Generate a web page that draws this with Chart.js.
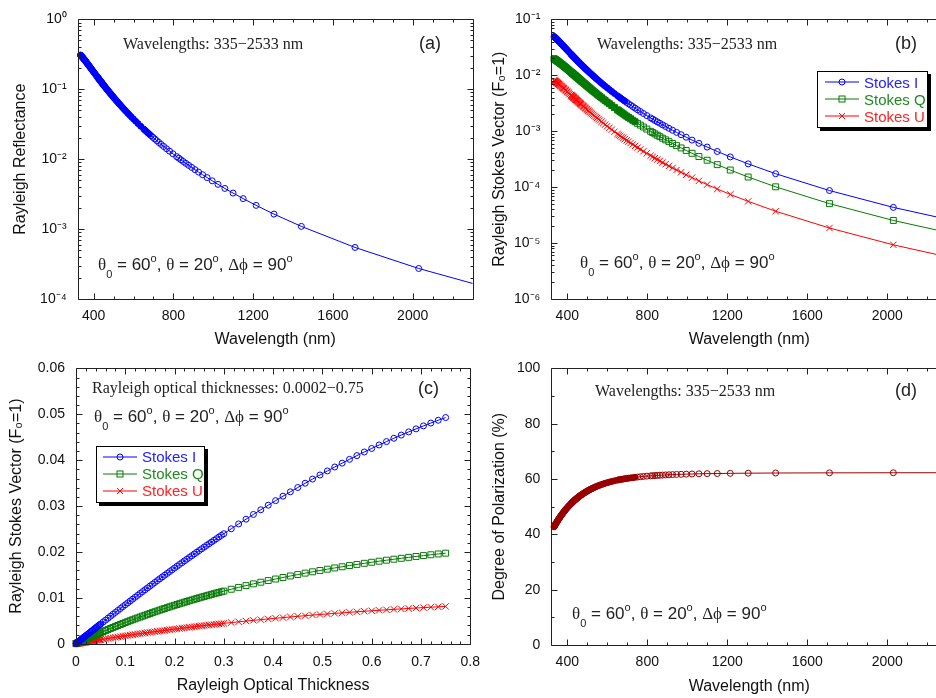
<!DOCTYPE html>
<html><head><meta charset="utf-8">
<script src="https://cdn.jsdelivr.net/npm/chart.js@4.4.1/dist/chart.umd.min.js"></script>
<style>
html,body{margin:0;padding:0;background:#fff;overflow:hidden;}
#wrap{position:relative;width:936px;height:698px;overflow:hidden;background:#fff;}
canvas{position:absolute;}
.note{position:absolute;white-space:nowrap;color:#222;}
.serif{font-family:'Liberation Serif','Times New Roman',serif;font-size:16px;line-height:20px;}
.tag{font-family:'Liberation Sans',Arial,sans-serif;font-size:18px;line-height:20px;}
.ang{font-family:'Liberation Sans',Arial,sans-serif;font-size:17px;line-height:20px;}
.ang .g{font-family:'Liberation Serif','Times New Roman',serif;}
.ang sub{font-size:11px;vertical-align:-8px;line-height:0;}
.ang sup{font-size:11px;vertical-align:8px;line-height:0;}
.legend{position:absolute;background:#fff;border:1px solid #000;box-shadow:3px 3px 0 #000;font-family:'Liberation Sans',Arial,sans-serif;font-size:15px;box-sizing:border-box;}
.legend .row{position:absolute;height:17px;display:flex;align-items:center;white-space:nowrap;line-height:17px;}
.legend svg{margin-right:5px;display:block;}
</style></head>
<body>
<div id="wrap">
<canvas id="ca"></canvas><canvas id="cb"></canvas><canvas id="cc"></canvas><canvas id="cd"></canvas>
<div class="note serif" style="left:123px;top:34px">Wavelengths: 335−2533 nm</div>
<div class="note tag" style="left:419px;top:33px">(a)</div>
<div class="note ang" style="left:98px;top:255px"><span class="g">θ</span><sub>0</sub> = 60<sup>o</sup>, <span class="g">θ</span> = 20<sup>o</sup>, <span class="g">Δϕ</span> = 90<sup>o</sup></div>
<div class="note serif" style="left:597px;top:34px">Wavelengths: 335−2533 nm</div>
<div class="note tag" style="left:895px;top:33px">(b)</div>
<div class="note ang" style="left:580px;top:253px"><span class="g">θ</span><sub>0</sub> = 60<sup>o</sup>, <span class="g">θ</span> = 20<sup>o</sup>, <span class="g">Δϕ</span> = 90<sup>o</sup></div>
<div class="note serif" style="left:92px;top:378px">Rayleigh optical thicknesses: 0.0002−0.75</div>
<div class="note tag" style="left:418px;top:378px">(c)</div>
<div class="note ang" style="left:94px;top:407px"><span class="g">θ</span><sub>0</sub> = 60<sup>o</sup>, <span class="g">θ</span> = 20<sup>o</sup>, <span class="g">Δϕ</span> = 90<sup>o</sup></div>
<div class="note serif" style="left:595px;top:381px">Wavelengths: 335−2533 nm</div>
<div class="note tag" style="left:895px;top:380px">(d)</div>
<div class="note ang" style="left:572px;top:604px"><span class="g">θ</span><sub>0</sub> = 60<sup>o</sup>, <span class="g">θ</span> = 20<sup>o</sup>, <span class="g">Δϕ</span> = 90<sup>o</sup></div>
</div>
<script>
// ---------- data ----------
const wavelength = [333.7,335.4,337.1,338.8,340.6,342.5,344.4,346.3,348.4,350.4,352.6,354.8,357.1,359.4,361.9,364.4,367.0,369.7,372.6,375.5,378.5,381.7,385.0,388.5,392.1,396.0,400.0,404.2,408.7,413.4,
418.4,420.1,421.9,423.7,425.6,427.5,429.4,431.4,433.4,435.5,437.7,439.8,442.1,444.4,446.8,449.2,451.7,454.3,456.9,459.6,462.4,465.4,468.3,471.4,474.6,477.9,481.4,484.9,488.6,492.5,496.5,500.7,505.0,509.6,514.3,519.3,524.6,530.1,536.0,542.2,548.8,555.8,563.2,571.2,579.8,589.2,599.3,610.4,622.5,636.0,
651.2,657.8,664.7,672.1,679.8,688.1,696.9,706.2,716.3,727.1,738.7,751.4,765.3,780.6,797.5,
816.5,826.9,838.0,849.9,862.8,876.6,891.7,908.2,926.3,946.4,968.9,994.5,1023.8,1058.1,1099.2,1149.8,1214.9,1304.3,1441.7,1710.8,2030.2,2533];

const opticalThickness = [0.75,0.735,0.72,0.705,0.69,0.675,0.66,0.645,0.63,0.615,0.6,0.585,0.57,0.555,0.54,0.525,0.51,0.495,0.48,0.465,0.45,0.435,0.42,0.405,0.39,0.375,0.36,0.345,0.33,0.315,
0.3,0.295,0.29,0.285,0.28,0.275,0.27,0.265,0.26,0.255,0.25,0.245,0.24,0.235,0.23,0.225,0.22,0.215,0.21,0.205,0.2,0.195,0.19,0.185,0.18,0.175,0.17,0.165,0.16,0.155,0.15,0.145,0.14,0.135,0.13,0.125,0.12,0.115,0.11,0.105,0.1,0.095,0.09,0.085,0.08,0.075,0.07,0.065,0.06,0.055,
0.05,0.048,0.046,0.044,0.042,0.04,0.038,0.036,0.034,0.032,0.03,0.028,0.026,0.024,0.022,
0.02,0.019,0.018,0.017,0.016,0.015,0.014,0.013,0.012,0.011,0.01,0.009,0.008,0.007,0.006,0.005,0.004,0.003,0.002,0.001,0.0005,0.0002];

const reflectance = [0.3097,0.3060,0.3022,0.2982,0.2942,0.2900,0.2857,0.2813,0.2768,0.2721,0.2674,0.2625,0.2575,0.2524,0.2472,0.2419,0.2365,0.2310,0.2254,0.2197,0.2139,0.2080,0.2020,0.1959,0.1897,0.1834,0.1770,0.1706,0.1640,0.1573,
0.1506,0.1484,0.1461,0.1438,0.1415,0.1392,0.1369,0.1346,0.1323,0.1299,0.1276,0.1252,0.1229,0.1205,0.1181,0.1157,0.1133,0.1109,0.1085,0.1061,0.1036,0.1012,0.09876,0.09630,0.09384,0.09136,0.08888,0.08639,0.08389,0.08139,0.07887,0.07635,0.07382,0.07129,0.06874,0.06619,0.06363,0.06106,0.05848,0.05590,0.05331,0.05071,0.04811,0.04549,0.04287,0.04025,0.03761,0.03497,0.03232,0.02967,
0.02701,0.02594,0.02487,0.02380,0.02273,0.02166,0.02059,0.01951,0.01844,0.01736,0.01628,0.01521,0.01413,0.01305,0.01196,
0.01088,0.01034,0.009798,0.009256,0.008713,0.008171,0.007628,0.007085,0.006541,0.005997,0.005454,0.004909,0.004365,0.003820,0.003275,0.002730,0.002185,0.001639,0.001093,0.0005465,0.0002733,0.0001093];

const stokesI = [0.04929,0.04870,0.04809,0.04747,0.04682,0.04616,0.04547,0.04477,0.04405,0.04331,0.04255,0.04178,0.04099,0.04018,0.03935,0.03851,0.03765,0.03677,0.03588,0.03497,0.03404,0.03310,0.03215,0.03118,0.03019,0.02919,0.02817,0.02714,0.02610,0.02504,
0.02397,0.02361,0.02325,0.02289,0.02252,0.02216,0.02179,0.02142,0.02105,0.02068,0.02030,0.01993,0.01955,0.01918,0.01880,0.01842,0.01804,0.01765,0.01727,0.01688,0.01650,0.01611,0.01572,0.01533,0.01493,0.01454,0.01415,0.01375,0.01335,0.01295,0.01255,0.01215,0.01175,0.01135,0.01094,0.01053,0.01013,0.009718,0.009308,0.008897,0.008485,0.008071,0.007656,0.007241,0.006823,0.006405,0.005986,0.005566,0.005144,0.004721,
0.004299,0.004129,0.003959,0.003788,0.003618,0.003447,0.003276,0.003105,0.002934,0.002763,0.002592,0.002420,0.002248,0.002076,0.001904,
0.001732,0.001646,0.001559,0.001473,0.001387,0.001300,0.001214,0.001128,0.001041,0.0009545,0.0008680,0.0007813,0.0006947,0.0006080,0.0005213,0.0004345,0.0003477,0.0002608,0.0001739,0.0000870,0.0000435,0.0000174];

const stokesQ = [0.01973,0.01956,0.01938,0.01920,0.01901,0.01882,0.01861,0.01841,0.01820,0.01798,0.01775,0.01752,0.01728,0.01703,0.01677,0.01651,0.01624,0.01596,0.01567,0.01538,0.01507,0.01476,0.01443,0.01410,0.01376,0.01340,0.01304,0.01266,0.01227,0.01187,
0.01146,0.01132,0.01118,0.01104,0.01089,0.01075,0.01060,0.01045,0.01030,0.01015,0.009994,0.009839,0.009683,0.009525,0.009365,0.009204,0.009042,0.008877,0.008711,0.008543,0.008374,0.008203,0.008030,0.007855,0.007679,0.007501,0.007321,0.007139,0.006956,0.006770,0.006583,0.006394,0.006203,0.006010,0.005815,0.005619,0.005420,0.005219,0.005016,0.004811,0.004604,0.004395,0.004184,0.003971,0.003756,0.003538,0.003318,0.003096,0.002872,0.002646,
0.002417,0.002325,0.002233,0.002140,0.002047,0.001953,0.001859,0.001765,0.001670,0.001575,0.001479,0.001383,0.001287,0.001190,0.001093,
0.0009957,0.0009469,0.0008979,0.0008489,0.0007998,0.0007506,0.0007012,0.0006518,0.0006023,0.0005527,0.0005029,0.0004531,0.0004032,0.0003531,0.0003030,0.0002527,0.0002024,0.0001519,0.0001014,0.00005075,0.0000254,0.00001016];

const stokesU = [0.008127,0.008042,0.007955,0.007866,0.007774,0.007681,0.007585,0.007486,0.007386,0.007283,0.007177,0.007069,0.006958,0.006845,0.006728,0.006609,0.006487,0.006362,0.006234,0.006103,0.005969,0.005832,0.005691,0.005547,0.005399,0.005247,0.005092,0.004934,0.004771,0.004604,
0.004434,0.004376,0.004318,0.004259,0.004200,0.004140,0.004080,0.004019,0.003958,0.003896,0.003834,0.003772,0.003709,0.003645,0.003581,0.003516,0.003451,0.003385,0.003319,0.003252,0.003185,0.003117,0.003049,0.002980,0.002910,0.002840,0.002770,0.002699,0.002627,0.002554,0.002482,0.002408,0.002334,0.002259,0.002184,0.002108,0.002032,0.001955,0.001877,0.001799,0.001720,0.001640,0.001560,0.001479,0.001397,0.001315,0.001232,0.001149,0.001065,0.0009797,
0.0008942,0.0008598,0.0008252,0.0007906,0.0007559,0.0007210,0.0006861,0.0006510,0.0006158,0.0005805,0.0005451,0.0005095,0.0004739,0.0004381,0.0004023,
0.0003661,0.0003480,0.0003300,0.0003119,0.0002938,0.0002757,0.0002575,0.0002393,0.0002211,0.0002028,0.0001845,0.0001662,0.0001479,0.0001295,0.0001111,0.0000926,0.0000742,0.0000557,0.0000371,0.0000186,0.0000093,0.0000037];

const polarization = [42.71,42.93,43.15,43.37,43.60,43.83,44.06,44.29,44.53,44.78,45.02,45.28,45.53,45.79,46.05,46.32,46.60,46.87,47.16,47.45,47.74,48.04,48.35,48.67,48.99,49.32,49.65,50.00,50.35,50.71,
51.08,51.21,51.34,51.47,51.60,51.73,51.86,51.99,52.13,52.27,52.40,52.54,52.68,52.83,52.97,53.12,53.26,53.41,53.56,53.71,53.87,54.02,54.18,54.34,54.50,54.66,54.83,55.00,55.17,55.34,55.51,55.69,55.87,56.05,56.23,56.42,56.61,56.80,57.00,57.20,57.40,57.60,57.81,58.02,58.24,58.46,58.68,58.91,59.14,59.37,
59.61,59.71,59.81,59.91,60.00,60.10,60.21,60.31,60.41,60.51,60.62,60.72,60.83,60.94,61.05,
61.15,61.21,61.26,61.32,61.38,61.43,61.49,61.54,61.60,61.66,61.71,61.77,61.83,61.89,61.95,62.00,62.06,62.12,62.18,62.24,62.27,62.29];

const seriesNames = ['Stokes I','Stokes Q','Stokes U'];
const wavelengthTicks = [400,800,1200,1600,2000];
const reflectanceTicks = [1e-4,1e-3,1e-2,1e-1,1];
const stokesLogTicks = [1e-6,1e-5,1e-4,1e-3,1e-2,1e-1];
const thicknessTicks = [0,0.1,0.2,0.3,0.4,0.5,0.6,0.7,0.8];
const stokesLinTicks = [0,0.01,0.02,0.03,0.04,0.05,0.06];
const polarizationTicks = [0,20,40,60,80,100];

// ---------- styling ----------
const FONT = "'Liberation Sans', Arial, Helvetica, sans-serif";
const BLUE = '#0000ff', GREEN = '#067a06', RED = '#ff0000', DARKRED = '#990000';
const INK = '#111';

function minorRange(a, b, step, skip) {
  const out = [];
  for (let v = a; v <= b + 1e-9; v += step) {
    const r = Math.round(v * 1e6) / 1e6;
    if (!skip.some(s => Math.abs(s - r) < 1e-9)) out.push(r);
  }
  return out;
}
function logMinor(e0, e1) {
  const out = [];
  for (let e = e0; e < e1; e++) for (let m = 2; m <= 9; m++) out.push(m * Math.pow(10, e));
  return out;
}
const supMap = {'-':'⁻','0':'⁰','1':'¹','2':'²','3':'³','4':'⁴','5':'⁵','6':'⁶'};
function powLabel(v) {
  const e = Math.round(Math.log10(v));
  return '10' + String(e).split('').map(c => supMap[c]).join('');
}

function frameTicks(cfg) {
  return {
    id: 'frameTicks',
    afterDatasetsDraw(chart) {
      const {ctx, chartArea: a} = chart;
      const xs = chart.scales.x, ys = chart.scales.y;
      const L = Math.round(a.left) + 0.5, R = Math.round(a.right) + 0.5;
      const T = Math.round(a.top) + 0.5, B = Math.round(a.bottom) + 0.5;
      ctx.save();
      ctx.strokeStyle = '#222';
      ctx.lineWidth = 1;
      ctx.beginPath();
      ctx.rect(L, T, R - L, B - T);
      const tx = (v, len) => { const p = Math.round(xs.getPixelForValue(v)) + 0.5;
        ctx.moveTo(p, B); ctx.lineTo(p, B - len); ctx.moveTo(p, T); ctx.lineTo(p, T + len); };
      const ty = (v, len) => { const p = Math.round(ys.getPixelForValue(v)) + 0.5;
        ctx.moveTo(L, p); ctx.lineTo(L + len, p); ctx.moveTo(R, p); ctx.lineTo(R - len, p); };
      cfg.xMajor.forEach(v => tx(v, 6)); cfg.xMinor.forEach(v => tx(v, 3));
      cfg.yMajor.forEach(v => ty(v, 6)); cfg.yMinor.forEach(v => ty(v, 3));
      ctx.stroke();
      ctx.restore();
    }
  };
}

// markers are filled where the original plot's overplotted markers merge into a solid band
function series(xs, ys, color, style, r, solidBelow) {
  return {
    data: xs.map((x, i) => ({x: x, y: ys[i]})),
    showLine: true, borderColor: color, borderWidth: 1, fill: false, tension: 0,
    pointStyle: style, pointRadius: r, pointHoverRadius: r,
    pointBorderColor: color,
    pointBackgroundColor: c => (solidBelow && c.raw && c.raw.x < solidBelow) ? color : 'rgba(0,0,0,0)',
    pointBorderWidth: 1,
    clip: {left: 5, top: 5, right: 0, bottom: 5}
  };
}

function axis(o) {
  return {
    type: o.type, min: o.min, max: o.max, position: o.position,
    afterBuildTicks: s => { s.ticks = o.ticks.map(v => ({value: v})); },
    afterFit: s => { if (o.width != null) s.width = o.width; if (o.height != null) s.height = o.height; },
    ticks: {callback: v => o.label(v), padding: o.pad, font: {family: FONT, size: 14}, color: INK,
            autoSkip: false, maxRotation: 0, minRotation: 0},
    grid: {display: false, drawTicks: false},
    border: {display: false},
    title: {display: true, text: o.title, font: {family: FONT, size: 16}, color: INK, padding: o.tpad}
  };
}

function panel(id, box, datasets, xo, yo, frame) {
  const cv = document.getElementById(id);
  cv.width = box.w; cv.height = box.h;
  cv.style.left = box.x + 'px'; cv.style.top = box.y + 'px';
  xo.height = box.y + box.h - box.B; xo.position = 'bottom';
  yo.width = box.L - box.x; yo.position = 'left';
  return new Chart(cv, {
    type: 'scatter',
    data: {datasets: datasets},
    options: {
      responsive: false, animation: false, devicePixelRatio: 1,
      layout: {padding: {left: 0, top: box.T - box.y, right: box.x + box.w - box.R, bottom: 0}},
      plugins: {legend: {display: false}, tooltip: {enabled: false}},
      scales: {x: axis(xo), y: axis(yo)}
    },
    plugins: [frameTicks(frame)]
  });
}

const wlMinor = minorRange(400, 2200, 100, wavelengthTicks);
const txt = v => String(v);

// (a)
panel('ca', {x: 0, y: 0, w: 480, h: 349, L: 77.7, T: 14.3, R: 472.5, B: 299},
  [series(wavelength, reflectance, BLUE, 'circle', 3, 680)],
  {type: 'linear', min: 320, max: 2300, ticks: wavelengthTicks, label: txt, pad: 9, title: 'Wavelength (nm)', tpad: {top: 0, bottom: 0}},
  {type: 'logarithmic', min: 1e-4, max: 1, ticks: reflectanceTicks, label: powLabel, pad: 11, title: 'Rayleigh Reflectance', tpad: {top: 11, bottom: 0}},
  {xMajor: wavelengthTicks, xMinor: wlMinor, yMajor: reflectanceTicks, yMinor: logMinor(-4, 0)});

// (b)
panel('cb', {x: 468, y: 0, w: 490, h: 349, L: 551.3, T: 14.3, R: 947.3, B: 299},
  [series(wavelength, stokesI, BLUE, 'circle', 3, 690),
   series(wavelength, stokesQ, GREEN, 'rect', 4.2, 740),
   series(wavelength, stokesU, RED, 'crossRot', 4.5, 0)],
  {type: 'linear', min: 320, max: 2300, ticks: wavelengthTicks, label: txt, pad: 9, title: 'Wavelength (nm)', tpad: {top: 0, bottom: 0}},
  {type: 'logarithmic', min: 1e-6, max: 1e-1, ticks: stokesLogTicks, label: powLabel, pad: 11, title: 'Rayleigh Stokes Vector (F₀=1)', tpad: {top: 22, bottom: 0}},
  {xMajor: wavelengthTicks, xMinor: wlMinor, yMajor: stokesLogTicks, yMinor: logMinor(-6, -1)});

// (c)
panel('cc', {x: 0, y: 349, w: 490, h: 349, L: 76, T: 358.5, R: 472, B: 643.7},
  [series(opticalThickness, stokesI, BLUE, 'circle', 3, 0),
   series(opticalThickness, stokesQ, GREEN, 'rect', 4.2, 0),
   series(opticalThickness, stokesU, RED, 'crossRot', 4.5, 0)].map(d => Object.assign(d, {clip: 5})),
  {type: 'linear', min: 0, max: 0.8, ticks: thicknessTicks, label: txt, pad: 10, title: 'Rayleigh Optical Thickness', tpad: {top: 0, bottom: 3}},
  {type: 'linear', min: 0, max: 0.06, ticks: stokesLinTicks, label: txt, pad: 11, title: 'Rayleigh Stokes Vector (F₀=1)', tpad: {top: 7, bottom: 0}},
  {xMajor: thicknessTicks, xMinor: minorRange(0, 0.8, 0.02, thicknessTicks), yMajor: stokesLinTicks, yMinor: minorRange(0, 0.06, 0.002, stokesLinTicks)});

// (d)
panel('cd', {x: 468, y: 349, w: 490, h: 349, L: 551.3, T: 360, R: 947.3, B: 645},
  [series(wavelength, polarization, DARKRED, 'circle', 3, 745)],
  {type: 'linear', min: 320, max: 2300, ticks: wavelengthTicks, label: txt, pad: 9, title: 'Wavelength (nm)', tpad: {top: 0, bottom: 2}},
  {type: 'linear', min: 0, max: 100, ticks: polarizationTicks, label: txt, pad: 11, title: 'Degree of Polarization (%)', tpad: {top: 22, bottom: 0}},
  {xMajor: wavelengthTicks, xMinor: wlMinor, yMajor: polarizationTicks, yMinor: minorRange(0, 100, 10, polarizationTicks)});

// ---------- legends (HTML) ----------
const legendColors = ['#2222ff', '#1f8a1f', '#ff2222'];
const lineColors = [BLUE, GREEN, RED];
function sample(i) {
  const c = lineColors[i];
  let m = '';
  if (i === 0) m = `<circle cx="17" cy="5" r="3" fill="none" stroke="${c}"/>`;
  if (i === 1) m = `<rect x="14" y="2" width="6" height="6" fill="none" stroke="${c}"/>`;
  if (i === 2) m = `<path d="M14 2 L20 8 M20 2 L14 8" stroke="${c}"/>`;
  return `<svg width="34" height="10" viewBox="0 0 34 10"><line x1="0" y1="5" x2="34" y2="5" stroke="${c}" stroke-width="1"/>${m}</svg>`;
}
function legend(left, top, w, h, rowsY, padL) {
  const d = document.createElement('div');
  d.className = 'legend';
  d.style.left = left + 'px'; d.style.top = top + 'px';
  d.style.width = w + 'px'; d.style.height = h + 'px';
  seriesNames.forEach((n, i) => {
    const r = document.createElement('div');
    r.className = 'row';
    r.style.left = padL + 'px';
    r.style.top = (rowsY[i] - 8.5) + 'px';
    r.innerHTML = sample(i) + `<span style="color:${legendColors[i]}">${n}</span>`;
    d.appendChild(r);
  });
  document.getElementById('wrap').appendChild(d);
}
legend(817, 71, 111, 57, [10, 27, 44], 7);
legend(96, 446, 109, 57, [9.5, 26.5, 43.5], 6);
</script>
</body></html>
